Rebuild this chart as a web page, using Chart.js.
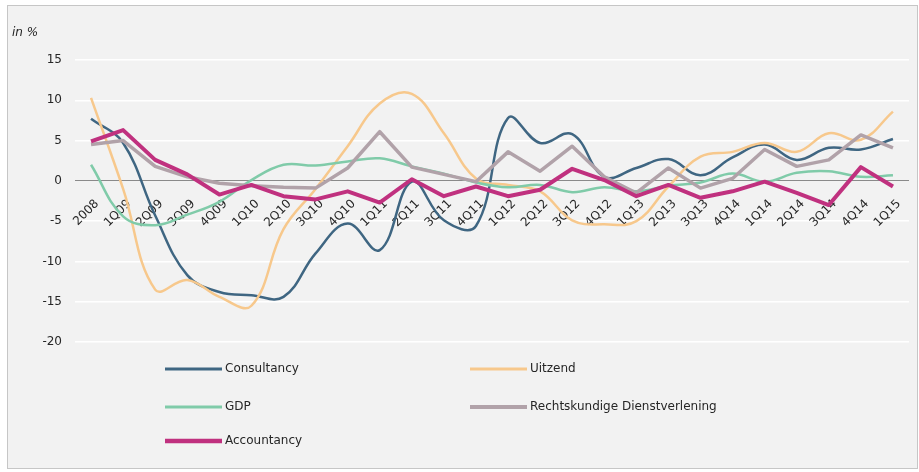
<!DOCTYPE html>
<html><head><meta charset="utf-8">
<script src="https://cdn.jsdelivr.net/npm/chart.js@4.4.1/dist/chart.umd.min.js"></script>
<style>
html,body{margin:0;padding:0;background:#ffffff;}
#frame{position:absolute;left:7px;top:5px;width:909px;height:462px;border:1px solid #c6c6c6;background:#f2f2f2;}
#wrap{position:absolute;left:0;top:0;width:919px;height:472px;}
</style></head><body>
<div id="frame"></div>
<div id="wrap"><canvas id="c" width="919" height="472"></canvas></div>
<script>
const quarters = ['2008','1Q09','2Q09','3Q09','4Q09','1Q10','2Q10','3Q10','4Q10','1Q11','2Q11','3Q11','4Q11','1Q12','2Q12','3Q12','4Q12','1Q13','2Q13','3Q13','4Q14','1Q14','2Q14','3Q14','4Q14','1Q15'];
const consultancy = [7.7, 4.7, -4.3, -11.7, -13.8, -14.2, -14.4, -9.0, -5.3, -8.6, -0.1, -4.9, -5.6, 7.8, 4.7, 5.8, 0.5, 1.6, 2.7, 0.7, 2.9, 4.5, 2.6, 4.1, 3.9, 5.2];
const uitzend = [10.3, -1.0, -13.5, -12.3, -14.4, -15.5, -6.0, -1.0, 4.3, 9.6, 10.8, 5.9, 0.3, -0.5, -1.3, -4.9, -5.4, -5.0, -0.7, 3.0, 3.6, 4.7, 3.6, 5.9, 5.1, 8.6];
const gdp = [2.0, -4.4, -5.5, -4.2, -2.6, 0.1, 2.0, 1.9, 2.4, 2.8, 1.8, 0.9, -0.2, -0.8, -0.5, -1.4, -0.8, -1.3, -0.6, -0.2, 0.9, -0.1, 1.0, 1.2, 0.5, 0.7];
const rechtskundig = [4.5, 5.0, 1.8, 0.5, -0.3, -0.6, -0.8, -0.9, 1.6, 6.1, 1.7, 0.8, -0.1, 3.6, 1.2, 4.3, 0.5, -1.5, 1.6, -0.9, 0.3, 3.9, 1.8, 2.6, 5.7, 4.1];
const accountancy = [4.9, 6.3, 2.6, 0.8, -1.7, -0.5, -1.9, -2.3, -1.3, -2.7, 0.2, -1.9, -0.7, -1.9, -1.1, 1.5, 0.1, -1.9, -0.5, -2.1, -1.3, -0.1, -1.5, -3.0, 1.7, -0.7];
const seriesNames = ['Consultancy','Uitzend','GDP','Rechtskundige Dienstverlening','Accountancy'];
const yTicks = [15, 10, 5, 0, -5, -10, -15, -20];
const yUnit = 'in %';

const colors = ['#3f6682','#f7c88c','#80cba9','#b1a2a9','#c0317f'];
const widths = [2.5, 2.5, 2.5, 3.5, 4];
const tensions = [0.4, 0.4, 0.4, 0, 0];
const orders = [4, 3, 2, 1, 0];
const values = [consultancy, uitzend, gdp, rechtskundig, accountancy];

const datasets = seriesNames.map((n, i) => ({
  label: n, data: values[i], borderColor: colors[i], backgroundColor: colors[i],
  borderWidth: widths[i], tension: tensions[i], pointRadius: 0, fill: false, order: orders[i],
  borderJoinStyle: 'round'
}));

const FONT = '"DejaVu Sans", Verdana, sans-serif';
const legendPos = [[165, 369], [470, 369], [165, 407], [470, 407], [165, 441]];

const extras = {
  id: 'extras',
  afterDraw(chart) {
    const ctx = chart.ctx;
    ctx.save();
    ctx.fillStyle = '#262626';
    ctx.textBaseline = 'middle';
    ctx.textAlign = 'left';
    ctx.font = 'italic 12px ' + FONT;
    ctx.fillText(yUnit, 12, 33);
    ctx.font = '12px ' + FONT;
    seriesNames.forEach((n, i) => {
      const [x, y] = legendPos[i];
      ctx.strokeStyle = colors[i];
      ctx.lineWidth = widths[i] + 0.5;
      ctx.beginPath(); ctx.moveTo(x, y); ctx.lineTo(x + 57, y); ctx.stroke();
      ctx.fillStyle = '#262626';
      ctx.fillText(n, x + 60, y);
    });
    ctx.restore();
  }
};

new Chart(document.getElementById('c'), {
  type: 'line',
  data: { labels: quarters, datasets },
  options: {
    responsive: false, animation: false, devicePixelRatio: 1,
    layout: { padding: { left: 0, right: 10, top: 60, bottom: 130 } },
    plugins: { legend: { display: false }, tooltip: { enabled: false } },
    scales: {
      x: {
        type: 'category', position: { y: 0 }, offset: true,
        grid: { display: false, offset: true }, border: { display: false },
        ticks: { autoSkip: false, minRotation: 45, maxRotation: 45, padding: 8, labelOffset: 6,
                 color: '#262626', font: { family: FONT, size: 12 } },
        afterFit(s) { s.height = 0; }
      },
      y: {
        min: -20, max: 15,
        afterBuildTicks(s) { s.ticks = yTicks.map(v => ({ value: v })); },
        grid: { drawTicks: false,
                color: c => c.tick && c.tick.value === 0 ? '#8a8a8a' : '#ffffff',
                lineWidth: c => c.tick && c.tick.value === 0 ? 1 : 1.5 },
        border: { display: false },
        ticks: { padding: 13, color: '#262626', font: { family: FONT, size: 12 } },
        afterFit(s) { s.width = 75; }
      }
    }
  },
  plugins: [extras]
});
</script>
</body></html>
